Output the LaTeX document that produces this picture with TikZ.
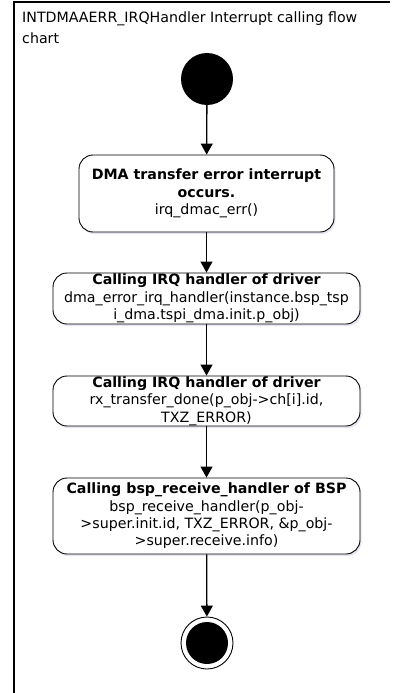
\documentclass[tikz,border=0pt]{standalone}
\usepackage{fontspec}
\setmainfont{DejaVu Sans}
\usetikzlibrary{arrows.meta,shadows}
\begin{document}
\begin{tikzpicture}[x=1pt,y=-1pt,
  every node/.style={font=\fontsize{14.2}{17.3}\selectfont},
  actbox/.style={draw, line width=0.9pt, rounded corners=14pt, align=center, inner sep=0pt,
     fill=white, drop shadow={shadow xshift=1.5pt, shadow yshift=-2pt, opacity=0.15, fill=blue!30!gray}},
  flow/.style={line width=1.3pt, -{Triangle[width=12pt,length=11pt]}},
  frameline/.style={line width=1.6pt}
]
\useasboundingbox (0,0) rectangle (393,693);
\draw[frameline] (390,2) -- (14,2) -- (14,694);
\node[anchor=north west, align=left, inner sep=0pt, font=\fontsize{14.2}{21}\selectfont] (title) at (22,11.5)
  {INTDMAAERR\_IRQHandler Interrupt calling flow\\chart};
\node[circle, fill=black, minimum size=52pt, inner sep=0pt] (start) at (207,79) {};
\node[actbox, minimum width=255pt, minimum height=77pt] (b1) at (206.5,193.5)
  {\textbf{DMA transfer error interrupt}\\\textbf{occurs.}\\irq\_dmac\_err()};
\node[actbox, minimum width=307pt, minimum height=51pt] (b2) at (206.5,298.5)
  {\textbf{Calling IRQ handler of driver}\\dma\_error\_irq\_handler(instance.bsp\_tsp\\i\_dma.tspi\_dma.init.p\_obj)};
\node[actbox, minimum width=307pt, minimum height=50pt] (b3) at (206.5,401)
  {\textbf{Calling IRQ handler of driver}\\rx\_transfer\_done(p\_obj->ch[i].id,\\TXZ\_ERROR)};
\node[actbox, minimum width=307pt, minimum height=76pt] (b4) at (206.5,516)
  {\textbf{Calling bsp\_receive\_handler of BSP}\\bsp\_receive\_handler(p\_obj-\\>super.init.id, TXZ\_ERROR, \&p\_obj-\\>super.receive.info)};
\node[circle, draw, line width=0.9pt, fill=white, minimum size=52pt, inner sep=0pt] (end) at (207,643) {};
\node[circle, fill=black, minimum size=42pt, inner sep=0pt] (endin) at (end.center) {};
\draw[flow] (start) -- (b1);
\draw[flow] (b1) -- (b2);
\draw[flow] (b2) -- (b3);
\draw[flow] (b3) -- (b4);
\draw[flow] (b4) -- (end);
\end{tikzpicture}
\end{document}
